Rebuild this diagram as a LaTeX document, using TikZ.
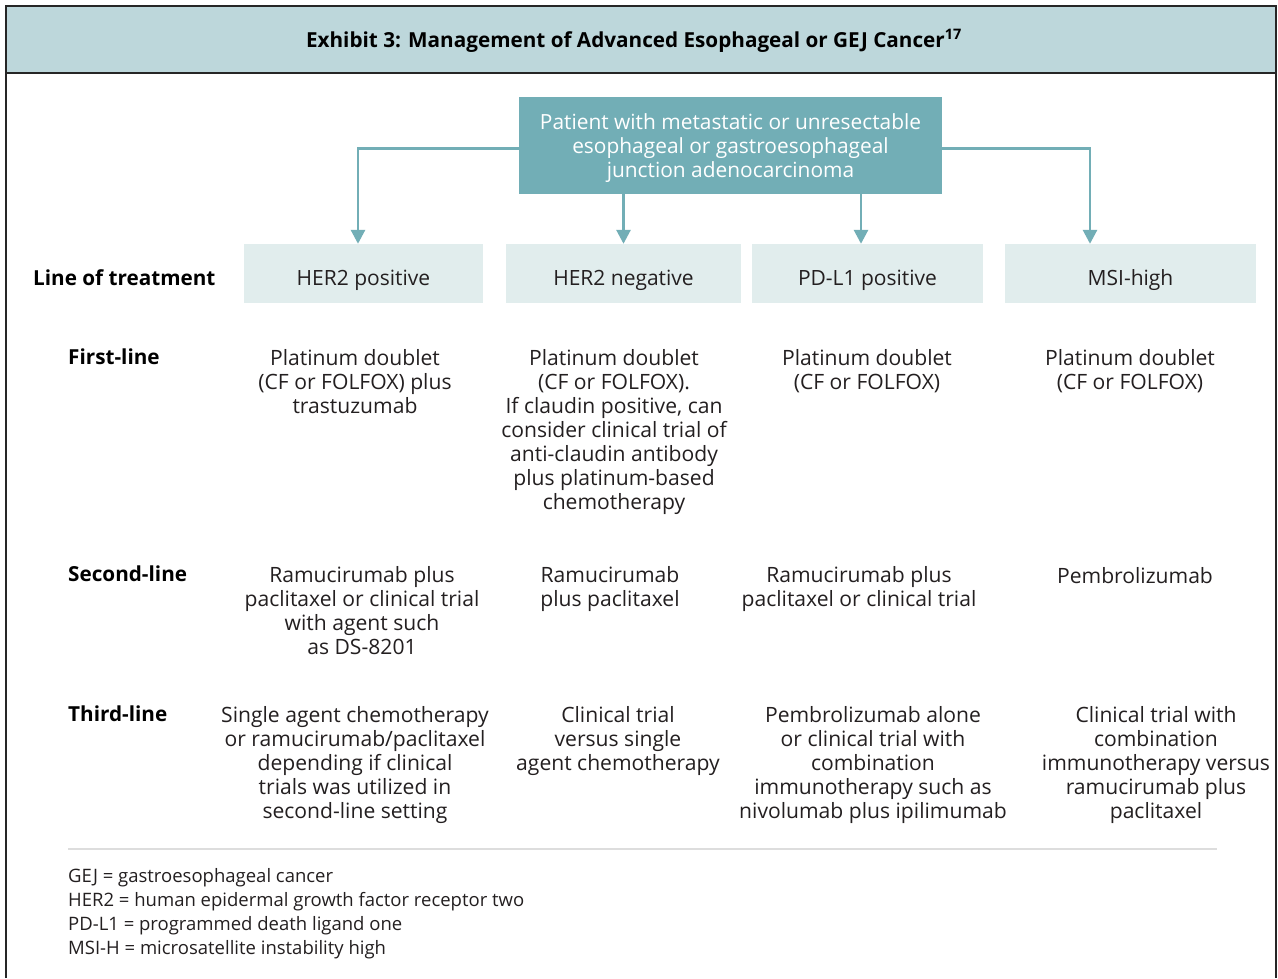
\documentclass[tikz,border=0pt]{standalone}
\usepackage{fontspec}
\setmainfont{Open Sans}
\usetikzlibrary{arrows.meta}
\definecolor{band}{HTML}{BDD7DB}
\definecolor{teal}{HTML}{72AEB6}
\definecolor{hdr}{HTML}{E1EDED}
\definecolor{ink}{HTML}{231F20}
\definecolor{sep}{HTML}{DDDDDD}
\tikzset{
  body/.style={align=center, inner sep=0pt, anchor=north, text=ink, font=\fontsize{21.1}{24}\selectfont, execute at begin node=\strut},
  rowlab/.style={inner sep=0pt, anchor=base west, text=black, font=\fontsize{20.7}{24}\selectfont\bfseries},
  hdrbox/.style={fill=hdr, inner sep=0pt, text=ink, font=\fontsize{21}{24}\selectfont, minimum height=59pt, text height=23pt, text depth=0pt},
  conn/.style={draw=teal, line width=2.8pt, -{Triangle[width=14pt,length=14pt]}},
  foot/.style={inner sep=0pt, anchor=base west, text=ink, font=\fontsize{18.5}{20}\selectfont},
}
\begin{document}
\begin{tikzpicture}[x=1pt,y=-1pt]
\useasboundingbox (0,0) rectangle (1278,978);
\fill[white] (0,0) rectangle (1278,978);
% title band
\fill[band] (6,6) rectangle (1276,73);
\draw[line width=1.6pt, black!85] (6,978) -- (6,6) -- (1276,6) -- (1276,978);
\draw[line width=1.6pt, black!85] (6,73) -- (1276,73);
\node[inner sep=0pt, font=\fontsize{20.7}{24}\selectfont\bfseries, text=black] (title) at (634,41) {Exhibit 3: Management of Advanced Esophageal or GEJ Cancer\textsuperscript{17}};
% top box
\node[fill=teal, minimum width=423pt, minimum height=97pt, inner sep=0pt, align=center, text=white, font=\fontsize{20.9}{24}\selectfont] (top) at (730.5,145.5) {\raisebox{-3pt}[\height][\depth]{\parbox{400pt}{\centering Patient with metastatic or unresectable\\esophageal or gastroesophageal\\junction adenocarcinoma}}};
% header boxes
\node[hdrbox, minimum width=239pt] (h1) at (363.5,273.5) {HER2 positive};
\node[hdrbox, minimum width=235pt] (h2) at (623.5,273.5) {HER2 negative};
\node[hdrbox, minimum width=231pt] (h3) at (867.5,273.5) {PD-L1 positive};
\node[hdrbox, minimum width=251pt] (h4) at (1130.5,273.5) {MSI-high};
% connectors
\draw[conn] ([yshift=-3pt]top.west) -| ([xshift=-5.5pt]h1.north);
\draw[conn] ([yshift=-3pt]top.east) -| ([xshift=-40.5pt]h4.north);
\draw[conn] (top.south -| h2.north) -- (h2.north);
\draw[conn] ([xshift=-6.5pt]top.south -| h3.north) -- ([xshift=-6.5pt]h3.north);
% row labels
\node[rowlab] (lot) at (33,285) {Line of treatment};
\node[rowlab] (r1) at (68,364) {First-line};
\node[rowlab] (r2) at (68,581) {Second-line};
\node[rowlab] (r3) at (68,721) {Third-line};
% first line (north = first baseline - 16.8)
\node[body] (a1) at (355,349.5) {Platinum doublet\\(CF or FOLFOX) plus\\trastuzumab};
\node[body] (b1) at (614,349.5) {Platinum doublet\\(CF or FOLFOX).\\If claudin positive, can\\consider clinical trial of\\anti-claudin antibody\\plus platinum-based\\chemotherapy};
\node[body] (c1) at (867,349.5) {Platinum doublet\\(CF or FOLFOX)};
\node[body] (d1) at (1130,349.5) {Platinum doublet\\(CF or FOLFOX)};
% second line
\node[body] (a2) at (362,566.5) {Ramucirumab plus\\paclitaxel or clinical trial\\with agent such\\as DS-8201};
\node[body] (b2) at (610,566.5) {Ramucirumab\\plus paclitaxel};
\node[body] (c2) at (859,566.5) {Ramucirumab plus\\paclitaxel or clinical trial};
\node[body] (d2) at (1135,566.5) {Pembrolizumab};
% third line
\node[body] (a3) at (355,706.5) {Single agent chemotherapy\\or ramucirumab/paclitaxel\\depending if clinical\\trials was utilized in\\second-line setting};
\node[body] (b3) at (618,706.5) {Clinical trial\\versus single\\agent chemotherapy};
\node[body] (c3) at (873,706.5) {Pembrolizumab alone\\or clinical trial with\\combination\\immunotherapy such as\\nivolumab plus ipilimumab};
\node[body] (d3) at (1156,706.5) {Clinical trial with\\combination\\immunotherapy versus\\ramucirumab plus\\paclitaxel};
% separator
\draw[sep, line width=1.2pt] (68,849) -- (1217,849);
% footer
\node[foot] (f1) at (68,882) {GEJ = gastroesophageal cancer};
\node[foot] (f2) at (68,906) {HER2 = human epidermal growth factor receptor two};
\node[foot] (f3) at (68,930) {PD-L1 = programmed death ligand one};
\node[foot] (f4) at (68,954) {MSI-H = microsatellite instability high};
\end{tikzpicture}
\end{document}
